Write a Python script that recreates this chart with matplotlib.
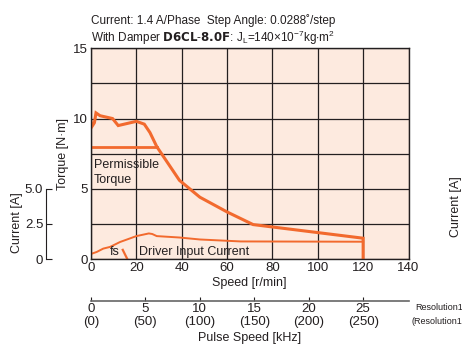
import matplotlib
matplotlib.use("Agg")
import matplotlib.pyplot as plt

plt.rcParams['font.family'] = ['Liberation Sans', 'DejaVu Sans']
plt.rcParams['mathtext.fontset'] = 'custom'
plt.rcParams['mathtext.rm'] = 'Liberation Sans'
plt.rcParams['mathtext.bf'] = 'DejaVu Sans:bold'

# pullout torque [N·m] vs speed [r/min]
torque_speed = [0, 0.5, 1.5, 2.2, 4, 9.5, 12, 20, 23.5, 26, 29, 39, 48, 60, 71.5, 120, 120]
torque_vals = [9.8, 9.45, 9.7, 10.4, 10.2, 10.0, 9.5, 9.8, 9.6, 9.0, 8.0, 5.6, 4.4, 3.35, 2.45, 1.48, 0]

# permissible torque
perm_speed = [0, 29]
perm_vals = [8.0, 8.0]

# driver input current [A]
cur_speed = [0, 2.5, 5.4, 8.4, 12.8, 20, 25.5, 27, 29, 39, 48, 66, 120]
cur_vals = [0.36, 0.5, 0.74, 0.86, 1.21, 1.63, 1.82, 1.78, 1.63, 1.53, 1.39, 1.25, 1.23]

# fs (starting frequency)
fs_speed = [14, 16]
fs_vals = [0.65, 0]

speed_ticks = [0, 20, 40, 60, 80, 100, 120, 140]
torque_ticks = [0, 2.5, 5, 7.5, 10, 12.5, 15]
torque_labels = ['0', '', '5', '', '10', '', '15']
current_ticks = [0, 2.5, 5]
current_labels = ['0', '2.5', '5.0']
pulse_ticks = [0, 5, 10, 15, 20, 25]
pulse_labels = ['0\n(0)', '5\n(50)', '10\n(100)', '15\n(150)', '20\n(200)', '25\n(250)']

W, H = 462, 345
orange = '#f26a2e'
ink = '#231f20'
fs_txt = 9

fig = plt.figure(figsize=(W / 100, H / 100), dpi=100)
L, R, T, B = 91, 408.5, 48.3, 259
ax = fig.add_axes([L / W, 1 - B / H, (R - L) / W, (B - T) / H])
ax.set_facecolor('#fdeadf')
ax.set_xlim(0, 140)
ax.set_ylim(0, 15)
ax.set_xticks(speed_ticks)
ax.set_yticks(torque_ticks)
ax.set_yticklabels(torque_labels)
ax.tick_params(length=0, labelsize=fs_txt + 0.5, pad=2, colors=ink)
ax.grid(True, color=ink, linewidth=0.9)
ax.set_axisbelow(True)
for s in ax.spines.values():
    s.set_color(ink)
    s.set_linewidth(1.0)

ax.plot(torque_speed, torque_vals, color=orange, lw=2.2, solid_joinstyle='miter')
ax.plot(perm_speed, perm_vals, color=orange, lw=2.0)
ax.plot(cur_speed, cur_vals, color=orange, lw=1.4)
ax.plot(fs_speed, fs_vals, color=orange, lw=1.6)

ax.text(1.2, 7.1, 'Permissible\nTorque', fontsize=fs_txt, va='top', ha='left',
        linespacing=1.3, color=ink)
ax.text(8.5, 0.1, 'fs', fontsize=fs_txt, va='bottom', ha='left', color=ink)
ax.text(21, 0.1, 'Driver Input Current', fontsize=fs_txt, va='bottom', ha='left', color=ink)

ax.set_xlabel('Speed [r/min]', fontsize=fs_txt, labelpad=2, color=ink)
ax.set_ylabel('Torque [N·m]', fontsize=fs_txt, labelpad=3, color=ink)

# current axis on the left
cax = fig.add_axes([46 / W, 1 - B / H, 0.001, (B - T) / H])
cax.set_ylim(0, 15)
cax.set_xticks([])
for k in ['top', 'right', 'bottom']:
    cax.spines[k].set_visible(False)
cax.spines['left'].set_bounds(0, 5)
cax.spines['left'].set_color(ink)
cax.set_yticks(current_ticks)
cax.set_yticklabels(current_labels)
cax.tick_params(axis='y', direction='in', length=4, labelsize=fs_txt + 0.5, pad=2, colors=ink)
cax.patch.set_visible(False)
fig.text(17 / W, 1 - 223 / H, 'Current [A]', rotation=90, fontsize=fs_txt,
         ha='center', va='center', color=ink)

# pulse speed axis
pax = fig.add_axes([L / W, 1 - 300.7 / H, (R - L) / W, 0.001])
pax.set_xlim(0, 140 * 25 / 120)
pax.set_yticks([])
for k in ['top', 'right', 'left']:
    pax.spines[k].set_visible(False)
pax.spines['bottom'].set_color('#666666')
pax.spines['bottom'].set_linewidth(1.2)
pax.set_xticks(pulse_ticks)
pax.set_xticklabels(pulse_labels, linespacing=1.05)
pax.tick_params(axis='x', direction='in', length=3, labelsize=fs_txt + 0.5, pad=2, colors=ink)
pax.patch.set_visible(False)
fig.text(250 / W, 1 - 338 / H, 'Pulse Speed [kHz]', fontsize=fs_txt,
         ha='center', va='center', color=ink)
fig.text(415 / W, 1 - 308 / H, 'Resolution1', fontsize=6.5, ha='left', va='center', color=ink)
fig.text(411 / W, 1 - 322 / H, '(Resolution10)', fontsize=6.5, ha='left', va='center', color=ink)

# cut-off axis label of the neighbouring chart
fig.text(456 / W, 1 - 207 / H, 'Current [A]', rotation=90, fontsize=fs_txt,
         ha='center', va='center', color=ink)

# header
fig.text(L / W, 1 - 21 / H, 'Current: 1.4 A/Phase  Step Angle: 0.0288˚/step',
         fontsize=8.5, ha='left', va='center', color=ink)
fig.text(L / W, 1 - 38 / H,
         r'With Damper $\mathbf{D6CL}$-$\mathbf{8.0F}$: J$_\mathrm{L}$=140$\times$10$^{-7}$kg$\cdot$m$^2$',
         fontsize=8.5, ha='left', va='center', color=ink)

fig.savefig('out.png', dpi=100)
